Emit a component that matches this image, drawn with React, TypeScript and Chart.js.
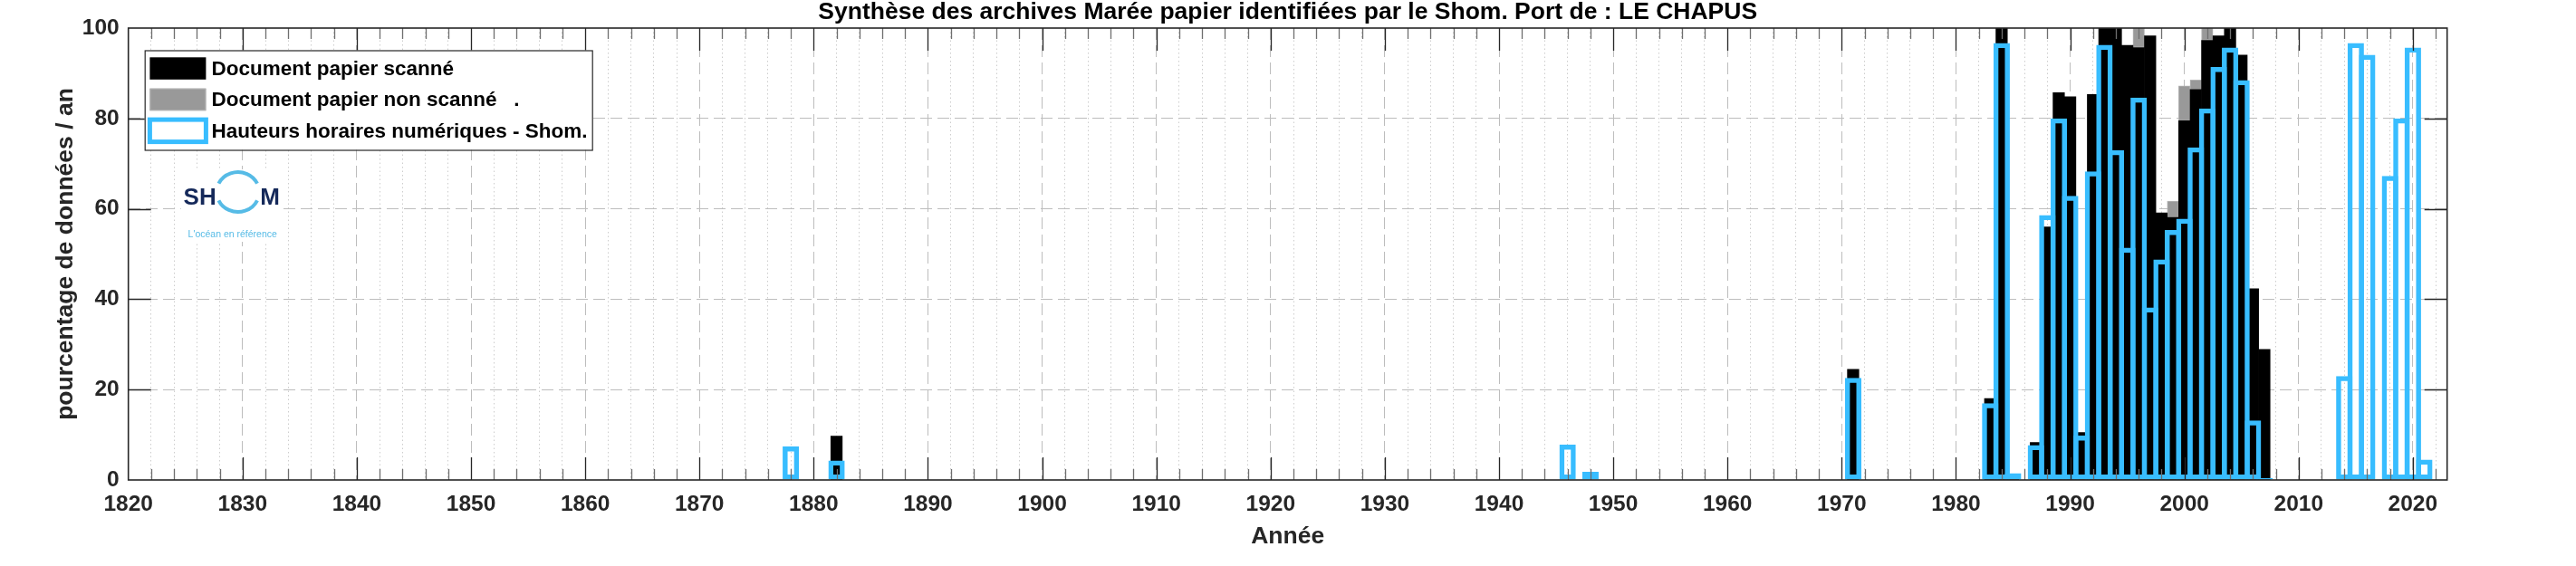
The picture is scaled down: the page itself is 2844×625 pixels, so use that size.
import React, { useEffect, useRef } from 'react';
import { Chart, registerables } from 'chart.js';

Chart.register(...registerables);

const FONT = "'Liberation Sans', Arial, Helvetica, sans-serif";

const TITLE = 'Synthèse des archives Marée papier identifiées par le Shom. Port de : LE CHAPUS';
const X_TITLE = 'Année';
const Y_TITLE = 'pourcentage de données / an';
const SERIES_LABELS = [
  'Document papier scanné',
  'Document papier non scanné   .',
  'Hauteurs horaires numériques - Shom.',
];
const LOGO_TEXT = ['SH', 'M'];
const LOGO_TAGLINE = "L'océan en référence";

const X_MIN = 1820;
const X_MAX = 2023;
const X_MINOR_STEP = 2;
const X_MAJOR_STEP = 10;
const Y_MIN = 0;
const Y_MAX = 100;
const Y_STEP = 20;

// Document papier scanné (black)
const scannedYears = [1882, 1971, 1983, 1984, 1985, 1987, 1988, 1989, 1990, 1991, 1992, 1993, 1994, 1995, 1996, 1997, 1998, 1999, 2000, 2001, 2002, 2003, 2004, 2005, 2006, 2007];
const scannedValues = [9.7, 24.5, 18.0, 100, 1.0, 8.3, 56.0, 85.7, 84.8, 10.5, 85.3, 100, 100, 96.2, 95.7, 98.3, 59.1, 58.1, 79.5, 86.4, 97.3, 98.3, 100, 94.0, 42.3, 28.9];

// Document papier non scanné (grey, stacked above black)
const nonScannedYears = [1996, 1999, 2000, 2001, 2002];
const nonScannedValues = [4.3, 3.6, 7.7, 2.1, 2.7];

// Hauteurs horaires numériques - Shom (blue outline)
const digitalYears = [1878, 1882, 1946, 1948, 1971, 1983, 1984, 1985, 1987, 1988, 1989, 1990, 1991, 1992, 1993, 1994, 1995, 1996, 1997, 1998, 1999, 2000, 2001, 2002, 2003, 2004, 2005, 2006, 2007, 2014, 2015, 2016, 2018, 2019, 2020, 2021];
const digitalValues = [7.4, 4.3, 7.8, 1.8, 22.6, 17.0, 96.7, 1.5, 7.7, 58.6, 80.0, 62.9, 9.8, 68.3, 96.3, 73.0, 51.4, 84.6, 38.2, 48.8, 55.3, 57.8, 73.6, 82.2, 91.4, 95.7, 88.5, 13.2, 0.4, 23.0, 96.7, 94.1, 67.3, 80.0, 95.7, 4.5];

const toPoints = (xs: number[], ys: number[]) => xs.map((x, i) => ({ x, y: ys[i] }));

const BLUE = '#38bdff';
const AXIS = '#262626';

const axesPlugin = {
  id: 'matlabAxes',
  afterDatasetsDraw(chart: any) {
    const { ctx, chartArea: a, scales } = chart;
    const x = scales.x;
    const y = scales.y;
    ctx.save();
    ctx.lineWidth = 1.3;
    for (const t of x.ticks) {
      const v = t.value;
      if (v <= X_MIN || v >= X_MAX) continue;
      const px = Math.round(x.getPixelForValue(v)) + 0.5;
      const major = v % X_MAJOR_STEP === 0;
      const len = major ? 25 : 12;
      ctx.strokeStyle = major ? AXIS : '#6e6e6e';
      ctx.beginPath();
      ctx.moveTo(px, a.bottom);
      ctx.lineTo(px, a.bottom - len);
      ctx.moveTo(px, a.top);
      ctx.lineTo(px, a.top + len);
      ctx.stroke();
    }
    ctx.strokeStyle = AXIS;
    for (const t of y.ticks) {
      const v = t.value;
      if (v <= Y_MIN || v >= Y_MAX) continue;
      const py = Math.round(y.getPixelForValue(v)) + 0.5;
      ctx.beginPath();
      ctx.moveTo(a.left, py);
      ctx.lineTo(a.left + 25, py);
      ctx.moveTo(a.right, py);
      ctx.lineTo(a.right - 25, py);
      ctx.stroke();
    }
    ctx.lineWidth = 1.6;
    ctx.strokeRect(a.left, a.top, a.right - a.left, a.bottom - a.top);
    ctx.restore();
  },
};

const logoPlugin = {
  id: 'shomLogo',
  afterDraw(chart: any) {
    const { ctx, chartArea: a } = chart;
    const ox = a.left;
    const oy = a.top;
    ctx.save();
    ctx.fillStyle = '#ffffff';
    ctx.fillRect(ox + 58, oy + 156, 112, 80);
    const cx = ox + 121;
    const cy = oy + 181;
    ctx.strokeStyle = '#56bbe6';
    ctx.lineWidth = 4;
    const d2r = Math.PI / 180;
    ctx.beginPath();
    ctx.ellipse(cx, cy, 23.5, 22, 0, 205 * d2r, 335 * d2r);
    ctx.stroke();
    ctx.beginPath();
    ctx.ellipse(cx, cy, 23.5, 22, 0, 25 * d2r, 155 * d2r);
    ctx.stroke();
    ctx.fillStyle = '#15295a';
    ctx.font = `bold 26px ${FONT}`;
    ctx.textBaseline = 'alphabetic';
    ctx.textAlign = 'right';
    ctx.fillText(LOGO_TEXT[0], cx - 24, cy + 14);
    ctx.textAlign = 'left';
    ctx.fillText(LOGO_TEXT[1], cx + 24.5, cy + 14);
    ctx.fillStyle = '#56bbe6';
    ctx.font = `10.5px ${FONT}`;
    ctx.textAlign = 'center';
    ctx.fillText(LOGO_TAGLINE, cx - 6, oy + 231);
    ctx.restore();
  },
};

const legendPlugin = {
  id: 'boxedLegend',
  afterDraw(chart: any) {
    const { ctx, chartArea: a } = chart;
    const ds = chart.data.datasets;
    const left = a.left + 18;
    const top = a.top + 24.5;
    const w = 494;
    const h = 110;
    ctx.save();
    ctx.fillStyle = '#ffffff';
    ctx.fillRect(left, top, w, h);
    ctx.strokeStyle = AXIS;
    ctx.lineWidth = 1.2;
    ctx.strokeRect(left + 0.5, top + 0.5, w, h);
    ctx.font = `bold 22.5px ${FONT}`;
    ctx.textBaseline = 'middle';
    ctx.textAlign = 'left';
    const order = [0, 1, 2];
    order.forEach((idx, i) => {
      const d = ds[idx];
      const sx = left + 5.7;
      const sy = top + 7.8 + i * 34.4;
      const sw = 62;
      const sh = 24.5;
      if ((d.borderWidth || 0) >= 2) {
        ctx.fillStyle = '#ffffff';
        ctx.fillRect(sx, sy, sw, sh);
        ctx.strokeStyle = d.borderColor;
        ctx.lineWidth = 5;
        ctx.strokeRect(sx, sy, sw, sh);
      } else {
        ctx.fillStyle = d.backgroundColor;
        ctx.fillRect(sx, sy, sw, sh);
        if (d.borderWidth) {
          ctx.strokeStyle = d.borderColor;
          ctx.lineWidth = 1;
          ctx.strokeRect(sx + 0.5, sy + 0.5, sw - 1, sh - 1);
        }
      }
      ctx.fillStyle = '#000000';
      ctx.fillText(d.label, left + 73.8, sy + sh / 2 + 1);
    });
    ctx.restore();
  },
};

export default function App() {
  const ref = useRef<HTMLCanvasElement>(null);

  useEffect(() => {
    const canvas = ref.current;
    if (!canvas) return;
    const chart = new Chart(canvas, {
      type: 'bar',
      data: {
        datasets: [
          {
            label: SERIES_LABELS[0],
            data: toPoints(scannedYears, scannedValues),
            stack: 'paper',
            order: 1,
            grouped: false,
            backgroundColor: '#000000',
            borderColor: '#000000',
            borderWidth: 0,
            barPercentage: 1,
            categoryPercentage: 1,
            clip: 0,
          },
          {
            label: SERIES_LABELS[1],
            data: toPoints(nonScannedYears, nonScannedValues),
            stack: 'paper',
            order: 2,
            grouped: false,
            backgroundColor: '#999999',
            borderColor: '#b3b3b3',
            borderWidth: 1,
            borderSkipped: false,
            barPercentage: 1,
            categoryPercentage: 1,
            clip: 0,
          },
          {
            label: SERIES_LABELS[2],
            data: toPoints(digitalYears, digitalValues),
            stack: 'digital',
            order: 0,
            grouped: false,
            backgroundColor: 'rgba(0,0,0,0)',
            borderColor: BLUE,
            borderWidth: 5.5,
            borderSkipped: false,
            barPercentage: 1.44,
            categoryPercentage: 1,
            clip: 0,
          },
        ] as any,
      },
      options: {
        responsive: false,
        animation: false,
        devicePixelRatio: 1,
        events: [],
        layout: { padding: { left: 0, right: 142.3, top: 0, bottom: 0 } },
        plugins: {
          legend: { display: false },
          tooltip: { enabled: false },
          title: {
            display: true,
            text: TITLE,
            fullSize: false,
            color: '#000000',
            font: { family: FONT, size: 26.5, weight: 'bold', lineHeight: 1 },
            padding: { top: 0, bottom: 4.5 },
          },
        },
        scales: {
          x: {
            type: 'linear',
            min: X_MIN,
            max: X_MAX,
            offset: false,
            afterFit: (s: any) => {
              s.height = 95;
            },
            ticks: {
              stepSize: X_MINOR_STEP,
              includeBounds: false,
              autoSkip: false,
              maxRotation: 0,
              minRotation: 0,
              padding: 13,
              color: AXIS,
              font: { family: FONT, size: 24.5, weight: 'bold' },
              callback: (v: any) => (Number(v) % X_MAJOR_STEP === 0 ? String(v) : ''),
            },
            grid: {
              offset: false,
              drawTicks: false,
              lineWidth: 1,
              color: (c: any) => {
                const v = c.tick ? c.tick.value : NaN;
                if (v === X_MIN) return 'rgba(0,0,0,0)';
                return v % X_MAJOR_STEP === 0 ? '#bdbdbd' : '#cdcdcd';
              },
            },
            border: {
              display: false,
              dash: (c: any) => (c.tick && c.tick.value % X_MAJOR_STEP === 0 ? [13, 6] : [1.5, 3]),
            },
            title: {
              display: true,
              text: X_TITLE,
              color: AXIS,
              font: { family: FONT, size: 26.5, weight: 'bold' },
              padding: { top: 0, bottom: 16.6 },
            },
          },
          y: {
            type: 'linear',
            min: Y_MIN,
            max: Y_MAX,
            stacked: true,
            afterFit: (s: any) => {
              s.width = 141.7;
            },
            ticks: {
              stepSize: Y_STEP,
              padding: 10,
              color: AXIS,
              font: { family: FONT, size: 24.5, weight: 'bold' },
            },
            grid: {
              drawTicks: false,
              lineWidth: 1,
              color: (c: any) => {
                const v = c.tick ? c.tick.value : NaN;
                return v === Y_MIN || v === Y_MAX ? 'rgba(0,0,0,0)' : '#bdbdbd';
              },
            },
            border: { display: false, dash: [13, 6] },
            title: {
              display: true,
              text: Y_TITLE,
              color: AXIS,
              font: { family: FONT, size: 26.5, weight: 'bold' },
              padding: { top: 56.6, bottom: 0 },
            },
          },
        },
      } as any,
      plugins: [axesPlugin, logoPlugin, legendPlugin],
    });
    return () => chart.destroy();
  }, []);

  return (
    <div style={{ position: 'fixed', left: 0, top: 0, width: 2844, height: 625, background: '#ffffff' }}>
      <canvas ref={ref} width={2844} height={625} style={{ display: 'block', width: 2844, height: 625 }} />
    </div>
  );
}
